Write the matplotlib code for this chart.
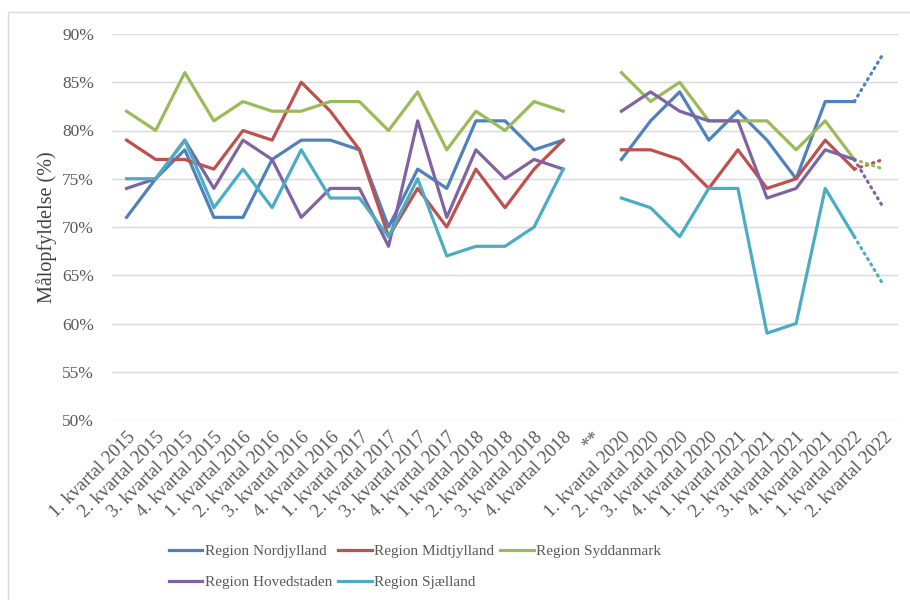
import matplotlib; matplotlib.use("Agg")
import matplotlib.pyplot as plt
import numpy as np
from matplotlib.patches import Rectangle

plt.rcParams["font.family"] = ["Liberation Serif", "DejaVu Serif"]

# --- data (målopfyldelse, %) ---
years_a = ["2015", "2016", "2017", "2018"]
years_b = ["2020", "2021"]
categories = ([f"{q}. kvartal {y}" for y in years_a for q in range(1, 5)] + ["**"]
              + [f"{q}. kvartal {y}" for y in years_b for q in range(1, 5)]
              + ["1. kvartal 2022", "2. kvartal 2022"])
nan = np.nan
nordjylland = [71, 75, 78, 71, 71, 77, 79, 79, 78, 70, 76, 74, 81, 81, 78, 79, nan,
               77, 81, 84, 79, 82, 79, 75, 83, 83, 88]
midtjylland = [79, 77, 77, 76, 80, 79, 85, 82, 78, 69, 74, 70, 76, 72, 76, 79, nan,
               78, 78, 77, 74, 78, 74, 75, 79, 76, 77]
syddanmark = [82, 80, 86, 81, 83, 82, 82, 83, 83, 80, 84, 78, 82, 80, 83, 82, nan,
              86, 83, 85, 81, 81, 81, 78, 81, 77, 76]
hovedstaden = [74, 75, 79, 74, 79, 77, 71, 74, 74, 68, 81, 71, 78, 75, 77, 76, nan,
               82, 84, 82, 81, 81, 73, 74, 78, 77, 72]
sjaelland = [75, 75, 79, 72, 76, 72, 78, 73, 73, 69, 75, 67, 68, 68, 70, 76, nan,
             73, 72, 69, 74, 74, 59, 60, 74, 69, 64]
series = [("Region Nordjylland", nordjylland, "#4F81BD"),
          ("Region Midtjylland", midtjylland, "#C0504D"),
          ("Region Syddanmark", syddanmark, "#9BBB59"),
          ("Region Hovedstaden", hovedstaden, "#8064A2"),
          ("Region Sjælland", sjaelland, "#4BACC6")]
y_ticks = [50, 55, 60, 65, 70, 75, 80, 85, 90]

fig = plt.figure(figsize=(9.1, 6), dpi=100)
fig.patches.append(Rectangle((8/910, -0.1), 1.2, 1 - 12/600 + 0.1, transform=fig.transFigure,
                             fill=False, edgecolor="#d9d9d9", lw=1))
ax = fig.add_axes([112/910, 0.3, 786/910, 1 - 34/600 - 0.3])
x = np.arange(len(categories))
n_solid = len(categories) - 1  # last step is a prognosis, drawn dotted
handles = []
for name, vals, col in series:
    v = np.array(vals, dtype=float)
    h, = ax.plot(x[:n_solid], v[:n_solid], color=col, lw=2.3, label=name)
    ax.plot(x[n_solid-1:], v[n_solid-1:], color=col, lw=2.3, ls=(0, (0.4, 1.6)), dash_capstyle="round")
    handles.append(h)

ax.set_xlim(-0.5, len(categories) - 0.5)
ax.set_ylim(50, 90)
ax.set_yticks(y_ticks)
ax.set_yticklabels([f"{t}%" for t in y_ticks])
ax.yaxis.grid(True, color="#d9d9d9", lw=1)
ax.set_axisbelow(True)
ax.set_xticks(x)
ax.set_xticklabels(categories, rotation=45, ha="right", rotation_mode="anchor")
ax.tick_params(axis="both", length=0, colors="#595959")
ax.tick_params(axis="y", pad=13, labelsize=12.5)
ax.tick_params(axis="x", pad=6, labelsize=13.5)
for s in ax.spines.values():
    s.set_visible(False)
ax.set_ylabel("Målopfyldelse (%)", fontsize=14.5, color="#404040", labelpad=4)

# legend filled row by row: Nord, Midt, Syd / Hoved, Sjælland
order = [0, 3, 1, 4, 2]
fig.legend([handles[i] for i in order], [series[i][0] for i in order],
           loc="upper left", bbox_to_anchor=(155/910, 1 - 531/600), ncol=3, frameon=False,
           fontsize=11, handlelength=2.2, handletextpad=0.15, columnspacing=0.4,
           labelspacing=1.1, labelcolor="#595959")
fig.savefig("out.png", dpi=100)
